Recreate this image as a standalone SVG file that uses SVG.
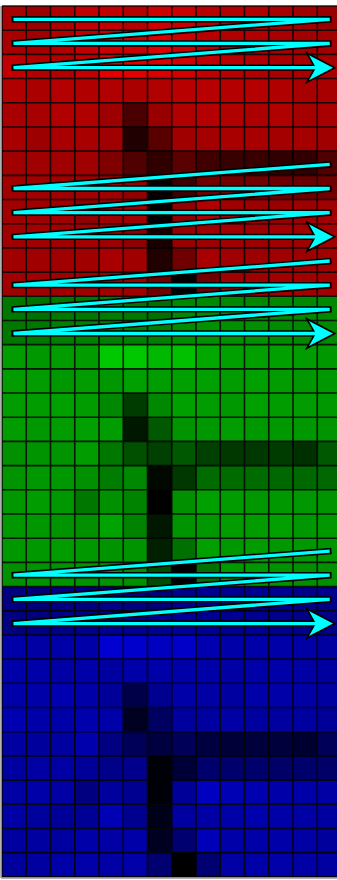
<svg xmlns="http://www.w3.org/2000/svg" xmlns:xlink="http://www.w3.org/1999/xlink" width="337" height="880" viewBox="0 0 337 880">
<style>
.grid{fill:none;stroke:#000;stroke-width:1.6;stroke-opacity:0.85}
.ol{fill:none;stroke:#000;stroke-width:6.4;stroke-linejoin:bevel;stroke-linecap:butt}
.cy{fill:none;stroke:#00ffff;stroke-width:3.3;stroke-linejoin:bevel;stroke-linecap:butt}
</style>
<defs>
<rect id="c" width="24.4" height="24.3"/>
<marker id="hb" markerUnits="userSpaceOnUse" orient="auto" overflow="visible" refX="0" refY="0" markerWidth="1" markerHeight="1">
<path d="M17,0 L-7,-12.5 L0,0 L-7,12.5 Z" fill="#000" stroke="#000" stroke-width="3.4" stroke-linejoin="miter" stroke-miterlimit="10"/>
</marker>
<marker id="hc" markerUnits="userSpaceOnUse" orient="auto" overflow="visible" refX="0" refY="0" markerWidth="1" markerHeight="1">
<path d="M17,0 L-7,-12.5 L0,0 L-7,12.5 Z" fill="#00ffff"/>
</marker>
</defs>
<rect width="337" height="880" fill="#fff"/>
<g id="red-channel">
<g transform="translate(0,6)"><use href="#c" x="2" fill="#a90000"/><use href="#c" x="26.25" fill="#9a0000"/><use href="#c" x="50.5" fill="#ae0000"/><use href="#c" x="74.75" fill="#c00000"/><use href="#c" x="99" fill="#c20000"/><use href="#c" x="123.25" fill="#b50000"/><use href="#c" x="147.5" fill="#cf0000"/><use href="#c" x="171.75" fill="#c80000"/><use href="#c" x="196" fill="#b80000"/><use href="#c" x="220.25" fill="#b00000"/><use href="#c" x="244.5" fill="#b00000"/><use href="#c" x="268.75" fill="#a80000"/><use href="#c" x="293" fill="#a00000"/><use href="#c" x="317.25" fill="#980000"/></g>
<g transform="translate(0,30.19)"><use href="#c" x="2" fill="#a80000"/><use href="#c" x="26.25" fill="#a20000"/><use href="#c" x="50.5" fill="#b00000"/><use href="#c" x="74.75" fill="#c00000"/><use href="#c" x="99" fill="#c80000"/><use href="#c" x="123.25" fill="#c80000"/><use href="#c" x="147.5" fill="#d80000"/><use href="#c" x="171.75" fill="#c80000"/><use href="#c" x="196" fill="#b80000"/><use href="#c" x="220.25" fill="#b00000"/><use href="#c" x="244.5" fill="#b00000"/><use href="#c" x="268.75" fill="#a80000"/><use href="#c" x="293" fill="#a00000"/><use href="#c" x="317.25" fill="#a00000"/></g>
<g transform="translate(0,54.38)"><use href="#c" x="2" fill="#c00000"/><use href="#c" x="26.25" fill="#b00000"/><use href="#c" x="50.5" fill="#b00000"/><use href="#c" x="74.75" fill="#c00000"/><use href="#c" x="99" fill="#e00000"/><use href="#c" x="123.25" fill="#e00000"/><use href="#c" x="147.5" fill="#d80000"/><use href="#c" x="171.75" fill="#d00000"/><use href="#c" x="196" fill="#c00000"/><use href="#c" x="220.25" fill="#b80000"/><use href="#c" x="244.5" fill="#b00000"/><use href="#c" x="268.75" fill="#a80000"/><use href="#c" x="293" fill="#a80000"/><use href="#c" x="317.25" fill="#a80000"/></g>
<g transform="translate(0,78.57)"><use href="#c" x="2" fill="#b00000"/><use href="#c" x="26.25" fill="#ab0000"/><use href="#c" x="50.5" fill="#b40000"/><use href="#c" x="74.75" fill="#b00000"/><use href="#c" x="99" fill="#b00000"/><use href="#c" x="123.25" fill="#aa0000"/><use href="#c" x="147.5" fill="#b00000"/><use href="#c" x="171.75" fill="#b80000"/><use href="#c" x="196" fill="#b80000"/><use href="#c" x="220.25" fill="#b40000"/><use href="#c" x="244.5" fill="#b40000"/><use href="#c" x="268.75" fill="#b00000"/><use href="#c" x="293" fill="#a80000"/><use href="#c" x="317.25" fill="#a80000"/></g>
<g transform="translate(0,102.76)"><use href="#c" x="2" fill="#a80000"/><use href="#c" x="26.25" fill="#a80000"/><use href="#c" x="50.5" fill="#b00000"/><use href="#c" x="74.75" fill="#b00000"/><use href="#c" x="99" fill="#9c0000"/><use href="#c" x="123.25" fill="#4a0000"/><use href="#c" x="147.5" fill="#980000"/><use href="#c" x="171.75" fill="#b00000"/><use href="#c" x="196" fill="#b40000"/><use href="#c" x="220.25" fill="#b00000"/><use href="#c" x="244.5" fill="#ac0000"/><use href="#c" x="268.75" fill="#b00000"/><use href="#c" x="293" fill="#a40000"/><use href="#c" x="317.25" fill="#a80000"/></g>
<g transform="translate(0,126.95)"><use href="#c" x="2" fill="#a80000"/><use href="#c" x="26.25" fill="#9c0000"/><use href="#c" x="50.5" fill="#a80000"/><use href="#c" x="74.75" fill="#a80000"/><use href="#c" x="99" fill="#a00000"/><use href="#c" x="123.25" fill="#200000"/><use href="#c" x="147.5" fill="#580000"/><use href="#c" x="171.75" fill="#a00000"/><use href="#c" x="196" fill="#a40000"/><use href="#c" x="220.25" fill="#a80000"/><use href="#c" x="244.5" fill="#a80000"/><use href="#c" x="268.75" fill="#a40000"/><use href="#c" x="293" fill="#a40000"/><use href="#c" x="317.25" fill="#a00000"/></g>
<g transform="translate(0,151.14)"><use href="#c" x="2" fill="#a00000"/><use href="#c" x="26.25" fill="#a00000"/><use href="#c" x="50.5" fill="#a00000"/><use href="#c" x="74.75" fill="#a00000"/><use href="#c" x="99" fill="#800000"/><use href="#c" x="123.25" fill="#500000"/><use href="#c" x="147.5" fill="#300000"/><use href="#c" x="171.75" fill="#5a0000"/><use href="#c" x="196" fill="#400000"/><use href="#c" x="220.25" fill="#380000"/><use href="#c" x="244.5" fill="#380000"/><use href="#c" x="268.75" fill="#300000"/><use href="#c" x="293" fill="#300000"/><use href="#c" x="317.25" fill="#500000"/></g>
<g transform="translate(0,175.33)"><use href="#c" x="2" fill="#a00000"/><use href="#c" x="26.25" fill="#a00000"/><use href="#c" x="50.5" fill="#a00000"/><use href="#c" x="74.75" fill="#a00000"/><use href="#c" x="99" fill="#a00000"/><use href="#c" x="123.25" fill="#900000"/><use href="#c" x="147.5" fill="#080000"/><use href="#c" x="171.75" fill="#3c0000"/><use href="#c" x="196" fill="#700000"/><use href="#c" x="220.25" fill="#700000"/><use href="#c" x="244.5" fill="#700000"/><use href="#c" x="268.75" fill="#6c0000"/><use href="#c" x="293" fill="#6a0000"/><use href="#c" x="317.25" fill="#700000"/></g>
<g transform="translate(0,199.52)"><use href="#c" x="2" fill="#a00000"/><use href="#c" x="26.25" fill="#a00000"/><use href="#c" x="50.5" fill="#a00000"/><use href="#c" x="74.75" fill="#900000"/><use href="#c" x="99" fill="#a00000"/><use href="#c" x="123.25" fill="#a00000"/><use href="#c" x="147.5" fill="#000000"/><use href="#c" x="171.75" fill="#900000"/><use href="#c" x="196" fill="#b00000"/><use href="#c" x="220.25" fill="#a00000"/><use href="#c" x="244.5" fill="#9c0000"/><use href="#c" x="268.75" fill="#980000"/><use href="#c" x="293" fill="#9c0000"/><use href="#c" x="317.25" fill="#a00000"/></g>
<g transform="translate(0,223.71)"><use href="#c" x="2" fill="#a00000"/><use href="#c" x="26.25" fill="#a00000"/><use href="#c" x="50.5" fill="#a00000"/><use href="#c" x="74.75" fill="#a40000"/><use href="#c" x="99" fill="#9c0000"/><use href="#c" x="123.25" fill="#900000"/><use href="#c" x="147.5" fill="#180000"/><use href="#c" x="171.75" fill="#980000"/><use href="#c" x="196" fill="#9c0000"/><use href="#c" x="220.25" fill="#a00000"/><use href="#c" x="244.5" fill="#9c0000"/><use href="#c" x="268.75" fill="#a00000"/><use href="#c" x="293" fill="#a00000"/><use href="#c" x="317.25" fill="#a00000"/></g>
<g transform="translate(0,247.9)"><use href="#c" x="2" fill="#a00000"/><use href="#c" x="26.25" fill="#a00000"/><use href="#c" x="50.5" fill="#a00000"/><use href="#c" x="74.75" fill="#a00000"/><use href="#c" x="99" fill="#a80000"/><use href="#c" x="123.25" fill="#a00000"/><use href="#c" x="147.5" fill="#200000"/><use href="#c" x="171.75" fill="#700000"/><use href="#c" x="196" fill="#a80000"/><use href="#c" x="220.25" fill="#a00000"/><use href="#c" x="244.5" fill="#9c0000"/><use href="#c" x="268.75" fill="#a00000"/><use href="#c" x="293" fill="#9c0000"/><use href="#c" x="317.25" fill="#a00000"/></g>
<g transform="translate(0,272.09)"><use href="#c" x="2" fill="#a00000"/><use href="#c" x="26.25" fill="#a00000"/><use href="#c" x="50.5" fill="#a00000"/><use href="#c" x="74.75" fill="#a00000"/><use href="#c" x="99" fill="#a00000"/><use href="#c" x="123.25" fill="#a00000"/><use href="#c" x="147.5" fill="#700000"/><use href="#c" x="171.75" fill="#000000"/><use href="#c" x="196" fill="#700000"/><use href="#c" x="220.25" fill="#a00000"/><use href="#c" x="244.5" fill="#a00000"/><use href="#c" x="268.75" fill="#a00000"/><use href="#c" x="293" fill="#a00000"/><use href="#c" x="317.25" fill="#a00000"/></g>
</g>
<g id="green-channel">
<g transform="translate(0,296.28)"><use href="#c" x="2" fill="#007800"/><use href="#c" x="26.25" fill="#007000"/><use href="#c" x="50.5" fill="#007800"/><use href="#c" x="74.75" fill="#007800"/><use href="#c" x="99" fill="#007c00"/><use href="#c" x="123.25" fill="#007800"/><use href="#c" x="147.5" fill="#007000"/><use href="#c" x="171.75" fill="#008800"/><use href="#c" x="196" fill="#008800"/><use href="#c" x="220.25" fill="#008800"/><use href="#c" x="244.5" fill="#008800"/><use href="#c" x="268.75" fill="#008800"/><use href="#c" x="293" fill="#008800"/><use href="#c" x="317.25" fill="#008800"/></g>
<g transform="translate(0,320.47)"><use href="#c" x="2" fill="#007800"/><use href="#c" x="26.25" fill="#007800"/><use href="#c" x="50.5" fill="#008000"/><use href="#c" x="74.75" fill="#008000"/><use href="#c" x="99" fill="#008000"/><use href="#c" x="123.25" fill="#008000"/><use href="#c" x="147.5" fill="#008000"/><use href="#c" x="171.75" fill="#008c00"/><use href="#c" x="196" fill="#009000"/><use href="#c" x="220.25" fill="#009000"/><use href="#c" x="244.5" fill="#009000"/><use href="#c" x="268.75" fill="#008c00"/><use href="#c" x="293" fill="#008800"/><use href="#c" x="317.25" fill="#008800"/></g>
<g transform="translate(0,344.66)"><use href="#c" x="2" fill="#009c00"/><use href="#c" x="26.25" fill="#009800"/><use href="#c" x="50.5" fill="#009c00"/><use href="#c" x="74.75" fill="#009c00"/><use href="#c" x="99" fill="#00c800"/><use href="#c" x="123.25" fill="#00c800"/><use href="#c" x="147.5" fill="#00b800"/><use href="#c" x="171.75" fill="#00c000"/><use href="#c" x="196" fill="#00a800"/><use href="#c" x="220.25" fill="#00a000"/><use href="#c" x="244.5" fill="#00a000"/><use href="#c" x="268.75" fill="#00a000"/><use href="#c" x="293" fill="#009c00"/><use href="#c" x="317.25" fill="#009800"/></g>
<g transform="translate(0,368.85)"><use href="#c" x="2" fill="#009c00"/><use href="#c" x="26.25" fill="#009c00"/><use href="#c" x="50.5" fill="#009800"/><use href="#c" x="74.75" fill="#009c00"/><use href="#c" x="99" fill="#009800"/><use href="#c" x="123.25" fill="#00a000"/><use href="#c" x="147.5" fill="#009c00"/><use href="#c" x="171.75" fill="#00a000"/><use href="#c" x="196" fill="#00a000"/><use href="#c" x="220.25" fill="#009c00"/><use href="#c" x="244.5" fill="#00a000"/><use href="#c" x="268.75" fill="#009c00"/><use href="#c" x="293" fill="#009800"/><use href="#c" x="317.25" fill="#009800"/></g>
<g transform="translate(0,393.04)"><use href="#c" x="2" fill="#009c00"/><use href="#c" x="26.25" fill="#009c00"/><use href="#c" x="50.5" fill="#00a000"/><use href="#c" x="74.75" fill="#009c00"/><use href="#c" x="99" fill="#008800"/><use href="#c" x="123.25" fill="#003c00"/><use href="#c" x="147.5" fill="#008800"/><use href="#c" x="171.75" fill="#00a000"/><use href="#c" x="196" fill="#009c00"/><use href="#c" x="220.25" fill="#009800"/><use href="#c" x="244.5" fill="#00a000"/><use href="#c" x="268.75" fill="#009c00"/><use href="#c" x="293" fill="#009c00"/><use href="#c" x="317.25" fill="#009800"/></g>
<g transform="translate(0,417.23)"><use href="#c" x="2" fill="#009c00"/><use href="#c" x="26.25" fill="#009800"/><use href="#c" x="50.5" fill="#009c00"/><use href="#c" x="74.75" fill="#00a000"/><use href="#c" x="99" fill="#009c00"/><use href="#c" x="123.25" fill="#001800"/><use href="#c" x="147.5" fill="#005800"/><use href="#c" x="171.75" fill="#009400"/><use href="#c" x="196" fill="#009800"/><use href="#c" x="220.25" fill="#009c00"/><use href="#c" x="244.5" fill="#009800"/><use href="#c" x="268.75" fill="#009800"/><use href="#c" x="293" fill="#009800"/><use href="#c" x="317.25" fill="#009400"/></g>
<g transform="translate(0,441.42)"><use href="#c" x="2" fill="#009000"/><use href="#c" x="26.25" fill="#009400"/><use href="#c" x="50.5" fill="#009400"/><use href="#c" x="74.75" fill="#009c00"/><use href="#c" x="99" fill="#007800"/><use href="#c" x="123.25" fill="#005000"/><use href="#c" x="147.5" fill="#004000"/><use href="#c" x="171.75" fill="#005800"/><use href="#c" x="196" fill="#004000"/><use href="#c" x="220.25" fill="#003800"/><use href="#c" x="244.5" fill="#003800"/><use href="#c" x="268.75" fill="#003c00"/><use href="#c" x="293" fill="#003000"/><use href="#c" x="317.25" fill="#005800"/></g>
<g transform="translate(0,465.61)"><use href="#c" x="2" fill="#009400"/><use href="#c" x="26.25" fill="#009800"/><use href="#c" x="50.5" fill="#009800"/><use href="#c" x="74.75" fill="#009000"/><use href="#c" x="99" fill="#007c00"/><use href="#c" x="123.25" fill="#008800"/><use href="#c" x="147.5" fill="#000800"/><use href="#c" x="171.75" fill="#003800"/><use href="#c" x="196" fill="#006c00"/><use href="#c" x="220.25" fill="#006c00"/><use href="#c" x="244.5" fill="#006c00"/><use href="#c" x="268.75" fill="#006800"/><use href="#c" x="293" fill="#006800"/><use href="#c" x="317.25" fill="#006800"/></g>
<g transform="translate(0,489.8)"><use href="#c" x="2" fill="#009800"/><use href="#c" x="26.25" fill="#009c00"/><use href="#c" x="50.5" fill="#009800"/><use href="#c" x="74.75" fill="#007800"/><use href="#c" x="99" fill="#009000"/><use href="#c" x="123.25" fill="#008400"/><use href="#c" x="147.5" fill="#000000"/><use href="#c" x="171.75" fill="#009000"/><use href="#c" x="196" fill="#00a000"/><use href="#c" x="220.25" fill="#009c00"/><use href="#c" x="244.5" fill="#009800"/><use href="#c" x="268.75" fill="#009800"/><use href="#c" x="293" fill="#009800"/><use href="#c" x="317.25" fill="#009400"/></g>
<g transform="translate(0,513.99)"><use href="#c" x="2" fill="#009800"/><use href="#c" x="26.25" fill="#009800"/><use href="#c" x="50.5" fill="#009400"/><use href="#c" x="74.75" fill="#009000"/><use href="#c" x="99" fill="#00a400"/><use href="#c" x="123.25" fill="#008400"/><use href="#c" x="147.5" fill="#001800"/><use href="#c" x="171.75" fill="#009400"/><use href="#c" x="196" fill="#009800"/><use href="#c" x="220.25" fill="#009c00"/><use href="#c" x="244.5" fill="#009c00"/><use href="#c" x="268.75" fill="#00a000"/><use href="#c" x="293" fill="#009800"/><use href="#c" x="317.25" fill="#009800"/></g>
<g transform="translate(0,538.18)"><use href="#c" x="2" fill="#009800"/><use href="#c" x="26.25" fill="#009800"/><use href="#c" x="50.5" fill="#009c00"/><use href="#c" x="74.75" fill="#009800"/><use href="#c" x="99" fill="#009400"/><use href="#c" x="123.25" fill="#009400"/><use href="#c" x="147.5" fill="#002000"/><use href="#c" x="171.75" fill="#007000"/><use href="#c" x="196" fill="#00a000"/><use href="#c" x="220.25" fill="#009800"/><use href="#c" x="244.5" fill="#009c00"/><use href="#c" x="268.75" fill="#009800"/><use href="#c" x="293" fill="#009800"/><use href="#c" x="317.25" fill="#009400"/></g>
<g transform="translate(0,562.37)"><use href="#c" x="2" fill="#009000"/><use href="#c" x="26.25" fill="#009400"/><use href="#c" x="50.5" fill="#009400"/><use href="#c" x="74.75" fill="#009400"/><use href="#c" x="99" fill="#009400"/><use href="#c" x="123.25" fill="#009000"/><use href="#c" x="147.5" fill="#004c00"/><use href="#c" x="171.75" fill="#000000"/><use href="#c" x="196" fill="#007000"/><use href="#c" x="220.25" fill="#009800"/><use href="#c" x="244.5" fill="#009800"/><use href="#c" x="268.75" fill="#009400"/><use href="#c" x="293" fill="#009000"/><use href="#c" x="317.25" fill="#009000"/></g>
</g>
<g id="blue-channel">
<g transform="translate(0,586.56)"><use href="#c" x="2" fill="#000080"/><use href="#c" x="26.25" fill="#000078"/><use href="#c" x="50.5" fill="#000080"/><use href="#c" x="74.75" fill="#000080"/><use href="#c" x="99" fill="#000088"/><use href="#c" x="123.25" fill="#000080"/><use href="#c" x="147.5" fill="#000078"/><use href="#c" x="171.75" fill="#00008c"/><use href="#c" x="196" fill="#000090"/><use href="#c" x="220.25" fill="#000090"/><use href="#c" x="244.5" fill="#000090"/><use href="#c" x="268.75" fill="#000090"/><use href="#c" x="293" fill="#000088"/><use href="#c" x="317.25" fill="#000088"/></g>
<g transform="translate(0,610.75)"><use href="#c" x="2" fill="#000080"/><use href="#c" x="26.25" fill="#000080"/><use href="#c" x="50.5" fill="#000088"/><use href="#c" x="74.75" fill="#000088"/><use href="#c" x="99" fill="#000090"/><use href="#c" x="123.25" fill="#000090"/><use href="#c" x="147.5" fill="#000090"/><use href="#c" x="171.75" fill="#000098"/><use href="#c" x="196" fill="#000090"/><use href="#c" x="220.25" fill="#000090"/><use href="#c" x="244.5" fill="#000090"/><use href="#c" x="268.75" fill="#00008c"/><use href="#c" x="293" fill="#000088"/><use href="#c" x="317.25" fill="#000088"/></g>
<g transform="translate(0,634.94)"><use href="#c" x="2" fill="#0000a8"/><use href="#c" x="26.25" fill="#0000a4"/><use href="#c" x="50.5" fill="#0000a8"/><use href="#c" x="74.75" fill="#0000a8"/><use href="#c" x="99" fill="#0000d0"/><use href="#c" x="123.25" fill="#0000cc"/><use href="#c" x="147.5" fill="#0000c0"/><use href="#c" x="171.75" fill="#0000c8"/><use href="#c" x="196" fill="#0000b0"/><use href="#c" x="220.25" fill="#0000a8"/><use href="#c" x="244.5" fill="#0000a8"/><use href="#c" x="268.75" fill="#0000a8"/><use href="#c" x="293" fill="#0000a4"/><use href="#c" x="317.25" fill="#0000a0"/></g>
<g transform="translate(0,659.13)"><use href="#c" x="2" fill="#0000a8"/><use href="#c" x="26.25" fill="#0000a8"/><use href="#c" x="50.5" fill="#0000a4"/><use href="#c" x="74.75" fill="#0000a8"/><use href="#c" x="99" fill="#0000a0"/><use href="#c" x="123.25" fill="#0000a8"/><use href="#c" x="147.5" fill="#0000a8"/><use href="#c" x="171.75" fill="#0000a8"/><use href="#c" x="196" fill="#0000a8"/><use href="#c" x="220.25" fill="#0000a4"/><use href="#c" x="244.5" fill="#0000a8"/><use href="#c" x="268.75" fill="#0000a8"/><use href="#c" x="293" fill="#0000a4"/><use href="#c" x="317.25" fill="#0000a0"/></g>
<g transform="translate(0,683.32)"><use href="#c" x="2" fill="#0000a8"/><use href="#c" x="26.25" fill="#0000a8"/><use href="#c" x="50.5" fill="#0000b0"/><use href="#c" x="74.75" fill="#0000a8"/><use href="#c" x="99" fill="#000098"/><use href="#c" x="123.25" fill="#000048"/><use href="#c" x="147.5" fill="#000090"/><use href="#c" x="171.75" fill="#0000a8"/><use href="#c" x="196" fill="#0000a4"/><use href="#c" x="220.25" fill="#0000a0"/><use href="#c" x="244.5" fill="#0000a8"/><use href="#c" x="268.75" fill="#0000a8"/><use href="#c" x="293" fill="#0000a4"/><use href="#c" x="317.25" fill="#0000a0"/></g>
<g transform="translate(0,707.51)"><use href="#c" x="2" fill="#0000b0"/><use href="#c" x="26.25" fill="#0000a8"/><use href="#c" x="50.5" fill="#0000a8"/><use href="#c" x="74.75" fill="#0000ac"/><use href="#c" x="99" fill="#0000a8"/><use href="#c" x="123.25" fill="#000020"/><use href="#c" x="147.5" fill="#000060"/><use href="#c" x="171.75" fill="#00009c"/><use href="#c" x="196" fill="#0000a0"/><use href="#c" x="220.25" fill="#0000a4"/><use href="#c" x="244.5" fill="#0000a0"/><use href="#c" x="268.75" fill="#0000a0"/><use href="#c" x="293" fill="#0000a0"/><use href="#c" x="317.25" fill="#000098"/></g>
<g transform="translate(0,731.7)"><use href="#c" x="2" fill="#0000a0"/><use href="#c" x="26.25" fill="#00009c"/><use href="#c" x="50.5" fill="#0000a0"/><use href="#c" x="74.75" fill="#0000ac"/><use href="#c" x="99" fill="#000080"/><use href="#c" x="123.25" fill="#000058"/><use href="#c" x="147.5" fill="#000040"/><use href="#c" x="171.75" fill="#000058"/><use href="#c" x="196" fill="#000040"/><use href="#c" x="220.25" fill="#000038"/><use href="#c" x="244.5" fill="#00003c"/><use href="#c" x="268.75" fill="#00003c"/><use href="#c" x="293" fill="#000030"/><use href="#c" x="317.25" fill="#000058"/></g>
<g transform="translate(0,755.89)"><use href="#c" x="2" fill="#0000a0"/><use href="#c" x="26.25" fill="#0000a4"/><use href="#c" x="50.5" fill="#0000a4"/><use href="#c" x="74.75" fill="#000098"/><use href="#c" x="99" fill="#000088"/><use href="#c" x="123.25" fill="#00008c"/><use href="#c" x="147.5" fill="#000008"/><use href="#c" x="171.75" fill="#000038"/><use href="#c" x="196" fill="#00006c"/><use href="#c" x="220.25" fill="#00006c"/><use href="#c" x="244.5" fill="#00006c"/><use href="#c" x="268.75" fill="#000068"/><use href="#c" x="293" fill="#00006c"/><use href="#c" x="317.25" fill="#000068"/></g>
<g transform="translate(0,780.08)"><use href="#c" x="2" fill="#0000a4"/><use href="#c" x="26.25" fill="#0000a8"/><use href="#c" x="50.5" fill="#0000a4"/><use href="#c" x="74.75" fill="#000080"/><use href="#c" x="99" fill="#00009c"/><use href="#c" x="123.25" fill="#000090"/><use href="#c" x="147.5" fill="#000008"/><use href="#c" x="171.75" fill="#000098"/><use href="#c" x="196" fill="#0000c0"/><use href="#c" x="220.25" fill="#0000b4"/><use href="#c" x="244.5" fill="#0000b0"/><use href="#c" x="268.75" fill="#0000a8"/><use href="#c" x="293" fill="#0000a8"/><use href="#c" x="317.25" fill="#0000a4"/></g>
<g transform="translate(0,804.27)"><use href="#c" x="2" fill="#0000a4"/><use href="#c" x="26.25" fill="#00009c"/><use href="#c" x="50.5" fill="#000098"/><use href="#c" x="74.75" fill="#000094"/><use href="#c" x="99" fill="#0000b4"/><use href="#c" x="123.25" fill="#000090"/><use href="#c" x="147.5" fill="#000018"/><use href="#c" x="171.75" fill="#0000a0"/><use href="#c" x="196" fill="#0000a4"/><use href="#c" x="220.25" fill="#0000a8"/><use href="#c" x="244.5" fill="#0000ac"/><use href="#c" x="268.75" fill="#0000a8"/><use href="#c" x="293" fill="#0000a4"/><use href="#c" x="317.25" fill="#0000a0"/></g>
<g transform="translate(0,828.46)"><use href="#c" x="2" fill="#0000a0"/><use href="#c" x="26.25" fill="#0000a0"/><use href="#c" x="50.5" fill="#0000a0"/><use href="#c" x="74.75" fill="#0000a8"/><use href="#c" x="99" fill="#0000a4"/><use href="#c" x="123.25" fill="#0000a8"/><use href="#c" x="147.5" fill="#000020"/><use href="#c" x="171.75" fill="#000070"/><use href="#c" x="196" fill="#0000b8"/><use href="#c" x="220.25" fill="#0000a8"/><use href="#c" x="244.5" fill="#0000a8"/><use href="#c" x="268.75" fill="#0000a8"/><use href="#c" x="293" fill="#0000a4"/><use href="#c" x="317.25" fill="#00009c"/></g>
<g transform="translate(0,852.65)"><use href="#c" x="2" fill="#00009c"/><use href="#c" x="26.25" fill="#0000a0"/><use href="#c" x="50.5" fill="#0000a8"/><use href="#c" x="74.75" fill="#0000a8"/><use href="#c" x="99" fill="#0000a4"/><use href="#c" x="123.25" fill="#0000a8"/><use href="#c" x="147.5" fill="#000070"/><use href="#c" x="171.75" fill="#000000"/><use href="#c" x="196" fill="#000070"/><use href="#c" x="220.25" fill="#0000a4"/><use href="#c" x="244.5" fill="#0000a8"/><use href="#c" x="268.75" fill="#0000a8"/><use href="#c" x="293" fill="#0000a4"/><use href="#c" x="317.25" fill="#0000a0"/></g>
</g>
<g id="grid">
<path class="grid" d="M2,6V877M26.25,6V877M50.5,6V877M74.75,6V877M99,6V877M123.25,6V877M147.5,6V877M171.75,6V877M196,6V877M220.25,6V877M244.5,6V877M268.75,6V877M293,6V877M317.25,6V877
M2,6H337M2,30.19H337M2,54.38H337M2,78.57H337M2,102.76H337M2,126.95H337M2,151.14H337M2,175.33H337M2,199.52H337M2,223.71H337M2,247.9H337M2,272.09H337
M2,296.28H337M2,320.47H337M2,344.66H337M2,368.85H337M2,393.04H337M2,417.23H337M2,441.42H337M2,465.61H337M2,489.8H337M2,513.99H337M2,538.18H337M2,562.37H337
M2,586.56H337M2,610.75H337M2,634.94H337M2,659.13H337M2,683.32H337M2,707.51H337M2,731.7H337M2,755.89H337M2,780.08H337M2,804.27H337M2,828.46H337M2,852.65H337M2,876.84H337"/>
<path d="M1,6V878M1,878H337" fill="none" stroke="#999" stroke-width="1.5"/>
</g>
<g id="connectors">
<path class="ol" d="M11.5,19.3H331.5L11.5,43.47H331.5L11.5,67.64H316" marker-end="url(#hb)"/>
<path class="cy" d="M13.5,19.3H329.7L13.5,43.47H329.7L13.5,67.64H316" marker-end="url(#hc)"/>
<path class="ol" d="M331.5,164.32L11.5,188.49H331.5L11.5,212.66H331.5L11.5,236.83H316" marker-end="url(#hb)"/>
<path class="cy" d="M329.7,164.32L13.5,188.49H329.7L13.5,212.66H329.7L13.5,236.83H316" marker-end="url(#hc)"/>
<path class="ol" d="M331.5,261L11.5,285.17H331.5L11.5,309.34H331.5L11.5,333.51H316" marker-end="url(#hb)"/>
<path class="cy" d="M329.7,261L13.5,285.17H329.7L13.5,309.34H329.7L13.5,333.51H316" marker-end="url(#hc)"/>
<path class="ol" d="M331.5,551.04L11.5,575.21H331.5L11.5,599.38H331.5L11.5,623.55H316" marker-end="url(#hb)"/>
<path class="cy" d="M329.7,551.04L13.5,575.21H329.7L13.5,599.38H329.7L13.5,623.55H316" marker-end="url(#hc)"/>
</g>
</svg>
